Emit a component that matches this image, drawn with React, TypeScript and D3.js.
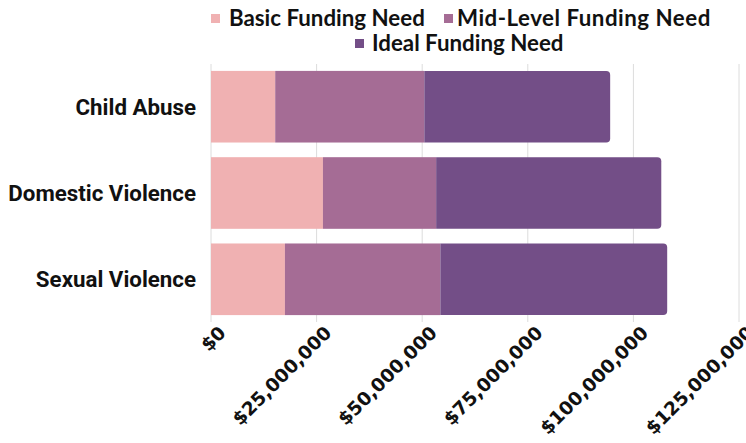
import React from 'react';
import * as d3 from 'd3';

const categories = ['Child Abuse', 'Domestic Violence', 'Sexual Violence'];
const seriesNames = ['Basic Funding Need', 'Mid-Level Funding Need', 'Ideal Funding Need'];
const basicValues = [15200000, 26500000, 17500000];
const midValues = [35300000, 26800000, 36800000];
const idealValues = [44000000, 53300000, 53700000];
const tickValues = [0, 25000000, 50000000, 75000000, 100000000, 125000000];
const colors = ['#f0b1b2', '#a56c95', '#734e87'];

const W = 746;
const H = 443;
const margin = { top: 64, right: 6, bottom: 121, left: 211 };

const rows = categories.map((c, i) => ({
  category: c,
  basic: basicValues[i],
  mid: midValues[i],
  ideal: idealValues[i],
}));

const keys = ['basic', 'mid', 'ideal'];

const App: React.FC = () => {
  const x = d3.scaleLinear().domain([0, 125000000]).range([margin.left, W - margin.right - 1]);
  const y = d3
    .scaleBand()
    .domain(categories)
    .range([margin.top, H - margin.bottom])
    .paddingInner(0.17)
    .paddingOuter(0.08);

  const stacked = d3.stack<any>().keys(keys)(rows);
  const fmt = (v: number) => '$' + d3.format(',')(v);
  const r = 4;

  // last segment gets rounded right corners
  const roundRight = (x0: number, x1: number, y0: number, h: number) =>
    `M${x0},${y0}H${x1 - r}Q${x1},${y0} ${x1},${y0 + r}V${y0 + h - r}Q${x1},${y0 + h} ${x1 - r},${y0 + h}H${x0}Z`;

  return (
    <div style={{ position: 'absolute', top: 0, left: 0 }}>
      <svg width={W} height={H} viewBox={`0 0 ${W} ${H}`}>
        <rect width={W} height={H} fill="#fff" />
        {/* grid */}
        {tickValues.map((t) => (
          <line
            key={t}
            x1={x(t)}
            x2={x(t)}
            y1={margin.top}
            y2={H - margin.bottom}
            stroke="#dcdcdc"
            strokeWidth={1}
          />
        ))}
        {/* bars */}
        {stacked.map((layer, li) =>
          layer.map((d, i) => {
            const cat = categories[i];
            const y0 = y(cat) as number;
            const h = y.bandwidth();
            const x0 = x(d[0]);
            const x1 = x(d[1]);
            if (li === keys.length - 1) {
              return <path key={li + '-' + i} d={roundRight(x0, x1, y0, h)} fill={colors[li]} />;
            }
            return <rect key={li + '-' + i} x={x0} y={y0} width={x1 - x0} height={h} fill={colors[li]} />;
          })
        )}
        {/* category labels */}
        {categories.map((c) => (
          <text
            key={c}
            x={196}
            y={(y(c) as number) + y.bandwidth() / 2}
            dy="0.35em"
            textAnchor="end"
            fontFamily="'Roboto', sans-serif"
            fontWeight="bold"
            fontSize={22.3}
            fill="#111"
          >
            {c}
          </text>
        ))}
        {/* x tick labels */}
        {tickValues.map((t) => (
          <text
            key={'t' + t}
            transform={`translate(${x(t) + 16},${334}) rotate(-45)`}
            textAnchor="end"
            fontFamily="'DejaVu Sans', sans-serif"
            fontWeight="bold"
            fontSize={18.6}
            fill="#111"
          >
            {fmt(t)}
          </text>
        ))}
        {/* legend */}
        {[
          { i: 0, sx: 211, tx: 229, y: 26 },
          { i: 1, sx: 444, tx: 457, y: 26 },
          { i: 2, sx: 355, tx: 372, y: 51 },
        ].map((l) => (
          <g key={l.i}>
            <rect x={l.sx} y={l.y - 12} width={9} height={9} fill={colors[l.i]} />
            <text
              x={l.tx}
              y={l.y}
              fontFamily="'Lato', sans-serif"
              fontWeight="bold"
              fontSize={22.3}
              letterSpacing={l.i === 1 ? 0.5 : 0}
              fill="#111"
            >
              {seriesNames[l.i]}
            </text>
          </g>
        ))}
      </svg>
    </div>
  );
};

export default App;
